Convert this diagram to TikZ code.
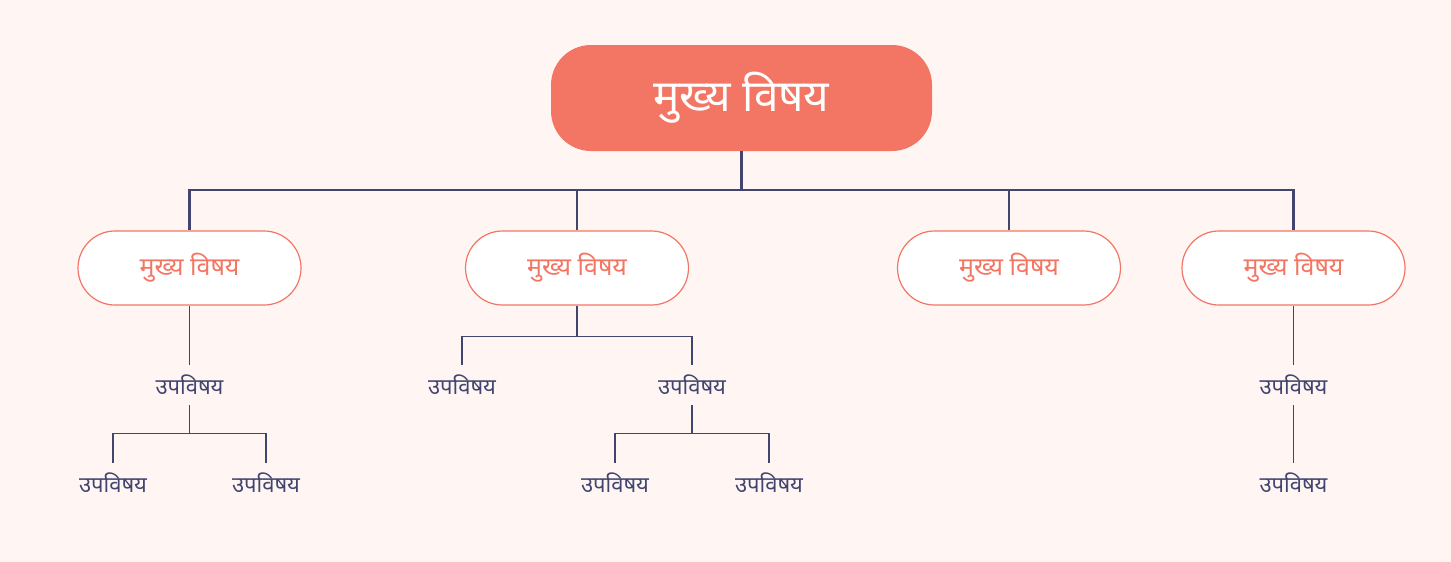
\documentclass[tikz,border=0pt]{standalone}
\usepackage{fontspec}
\usepackage{tikz}
\usepackage{xcolor}
\newfontfamily\devafont[Script=Devanagari]{Noto Sans}
\definecolor{topic-red}{HTML}{F37563}
\definecolor{line-navy}{HTML}{414570}
\definecolor{paper}{HTML}{FFF6F4}
\tikzset{
    main-box/.style = {fill=topic-red, text=white, rectangle, rounded corners=40pt, minimum width=381pt, minimum height=106pt, font=\devafont\fontsize{44}{48}\selectfont},
    topic-box/.style = {draw=topic-red, fill=white, line width=1.2pt, rectangle, rounded corners=37pt, minimum width=223pt, minimum height=74pt, text=topic-red, font=\devafont\fontsize{25}{28}\selectfont},
    sub-text/.style = {text=line-navy, minimum height=40pt, inner sep=0pt, font=\devafont\fontsize{22}{26}\selectfont},
    trunk/.style = {draw=line-navy, line width=2.6pt},
    twig/.style = {draw=line-navy, line width=1.3pt},
}

\begin{document}
\begin{tikzpicture}[x=1pt, y=-1pt]
\fill[paper] (0,0) rectangle (1451,562);
\useasboundingbox (0,0) rectangle (1451,562);

\node [main-box] (root) at (741.5,98) {मुख्य विषय};
\node [topic-box] (t1) at (189.5,268) {मुख्य विषय};
\node [topic-box] (t2) at (577,268) {मुख्य विषय};
\node [topic-box] (t3) at (1009,268) {मुख्य विषय};
\node [topic-box] (t4) at (1293.5,268) {मुख्य विषय};

\node [sub-text] (s1) at (189.5,385) {उपविषय};
\node [sub-text] (s11) at (113,483) {उपविषय};
\node [sub-text] (s12) at (266,483) {उपविषय};
\node [sub-text] (s2) at (462,385) {उपविषय};
\node [sub-text] (s3) at (692,385) {उपविषय};
\node [sub-text] (s31) at (615,483) {उपविषय};
\node [sub-text] (s32) at (769,483) {उपविषय};
\node [sub-text] (s4) at (1293.5,385) {उपविषय};
\node [sub-text] (s41) at (1293.5,483) {उपविषय};

\coordinate (bus) at (741.5,190);
\draw [trunk] (root.south) -- (bus) -| (t1.north);
\draw [trunk] (bus) -| (t2.north);
\draw [trunk] (bus) -| (t3.north);
\draw [trunk] (bus) -| (t4.north);

\draw [twig] (t1.south) -- (s1.north);
\draw [twig] (s1.south) -- ++(0,28) coordinate (j1) -| (s11.north);
\draw [twig] (j1) -| (s12.north);
\draw [twig] (t2.south) -- ++(0,31) coordinate (j2) -| (s2.north);
\draw [twig] (j2) -| (s3.north);
\draw [twig] (s3.south) -- ++(0,28) coordinate (j3) -| (s31.north);
\draw [twig] (j3) -| (s32.north);
\draw [twig] (t4.south) -- (s4.north);
\draw [twig] (s4.south) -- (s41.north);
\end{tikzpicture}
\end{document}
